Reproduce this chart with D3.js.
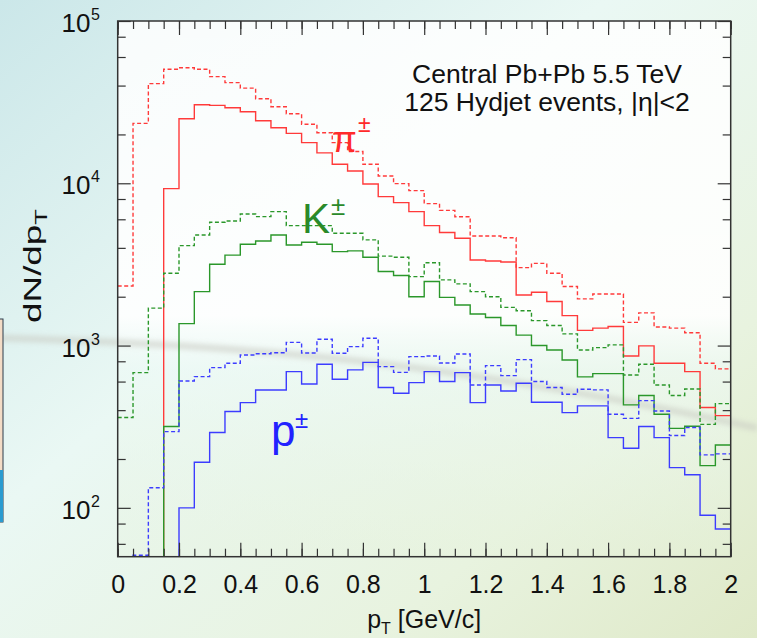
<!DOCTYPE html>
<html>
<head>
<meta charset="utf-8">
<script src="https://cdn.jsdelivr.net/npm/d3@7"></script>
<style>
  html, body { margin: 0; padding: 0; }
  body { width: 757px; height: 638px; overflow: hidden; }
  svg text { font-family: "Liberation Sans", Arial, sans-serif; }
</style>
</head>
<body>
<svg class="display"></svg>
<script>
// pT histograms, 40 bins of 0.05 GeV/c from 0 to 2
const binWidth = 0.05;

// dashed = all, solid = second set (as drawn in the figure)
const pionDashed = [2330, 23400, 41100, 50400, 51500, 50400, 45400, 41700, 38600, 33200,
  29600, 26800, 23100, 20500, 17800, 15700, 13100, 11100, 9950, 9010,
  7490, 6810, 6220, 4730, 4730, 4620, 3020, 3210, 2790, 2310,
  1940, 2080, 2080, 1390, 1590, 1300, 1280, 1200, 778, 718];
const pionSolid = [0, 0, 0, 9270, 25000, 30500, 30200, 29200, 27600, 24300,
  22000, 20300, 17800, 15400, 13100, 11900, 9900, 8270, 7600, 6690,
  5480, 4970, 4580, 3370, 3320, 3270, 2050, 2130, 1870, 1530,
  1240, 1280, 1310, 863, 995, 778, 778, 691, 415, 370];
const kaonDashed = [360, 681, 1700, 2790, 4130, 4800, 5750, 5860, 6470, 6230,
  6690, 5480, 5480, 5480, 4920, 4920, 4480, 3560, 3500, 2660,
  3240, 2540, 2400, 2150, 2000, 1720, 1640, 1425, 1330, 1180,
  940, 971, 1010, 659, 767, 572, 492, 540, 327, 439];
const kaonSolid = [0, 0, 0, 317, 1365, 2150, 3170, 3610, 4210, 4410,
  4800, 4170, 4330, 4210, 3790, 3830, 3500, 2860, 2700, 2000,
  2480, 1980, 1780, 1565, 1490, 1330, 1160, 1000, 940, 815,
  641, 672, 672, 431, 492, 377, 309, 318, 182, 244];
const protonDashed = [0, 51, 133, 295, 605, 644, 731, 778, 875, 891,
  904, 1047, 900, 1093, 896, 985, 1109, 742, 684, 855,
  863, 781, 888, 572, 752, 653, 819, 600, 551, 501,
  538, 533, 377, 356, 458, 395, 279, 313, 212, 215];
const protonSolid = [0, 0, 0, 0, 100, 191, 291, 392, 445, 532,
  532, 691, 580, 767, 620, 708, 788, 551, 508, 591,
  691, 600, 681, 445, 572, 525, 586, 447, 447, 386,
  425, 425, 271, 233, 317, 271, 177, 160, 90, 74];

const xMajor = [0, 0.2, 0.4, 0.6, 0.8, 1, 1.2, 1.4, 1.6, 1.8, 2];
const xMinor = d3.range(0, 41).map(i => i * 0.05);
const yMajor = [100, 1000, 10000, 100000];
const yExp = ['2', '3', '4', '5'];
const yMinor = [60, 80, 200, 400, 600, 800, 2000, 4000, 6000, 8000, 20000, 40000, 60000, 80000];

const width = 757;
const height = 638;
const margin = {top: 21, right: 26.3, bottom: 81.3, left: 117.7};

const svg = d3.select('.display')
  .attr('width', width)
  .attr('height', height);

const x = d3.scaleLinear()
  .domain([0, 2])
  .range([margin.left, width - margin.right]);

const y = d3.scaleLog()
  .domain([50, 1e5])
  .range([height - margin.bottom, margin.top]);

// slide background
const defs = svg.append('defs');
const bg = defs.append('linearGradient')
  .attr('id', 'bg')
  .attr('x1', 0).attr('y1', 0).attr('x2', 1).attr('y2', 1);
bg.append('stop').attr('offset', 0).attr('stop-color', '#cbe7e9');
bg.append('stop').attr('offset', 0.4).attr('stop-color', '#eaf8f4');
bg.append('stop').attr('offset', 0.75).attr('stop-color', '#e8f3df');
bg.append('stop').attr('offset', 1).attr('stop-color', '#dfe9c8');

const inner = defs.append('linearGradient')
  .attr('id', 'inner')
  .attr('x1', 0).attr('y1', 0).attr('x2', 0).attr('y2', 1);
inner.append('stop').attr('offset', 0).attr('stop-color', '#ffffff').attr('stop-opacity', 0.85);
inner.append('stop').attr('offset', 0.55).attr('stop-color', '#ffffff').attr('stop-opacity', 0.9);
inner.append('stop').attr('offset', 0.65).attr('stop-color', '#eefaf6').attr('stop-opacity', 0.6);
inner.append('stop').attr('offset', 1).attr('stop-color', '#e6f2dc').attr('stop-opacity', 0.3);

defs.append('filter').attr('id', 'blur')
  .append('feGaussianBlur').attr('stdDeviation', 2.5);

defs.append('clipPath').attr('id', 'plot')
  .append('rect')
  .attr('x', x(0)).attr('y', y(1e5))
  .attr('width', x(2) - x(0)).attr('height', y(50) - y(1e5));

svg.append('rect')
  .attr('width', width).attr('height', height)
  .attr('fill', 'url(#bg)');

svg.append('rect')
  .attr('x', x(0)).attr('y', y(1e5))
  .attr('width', x(2) - x(0)).attr('height', y(50) - y(1e5))
  .attr('fill', 'url(#inner)');

// grey streak of the slide design
svg.append('path')
  .attr('d', 'M0,338 C250,345 450,362 757,428')
  .attr('fill', 'none')
  .attr('stroke', '#c9cbc2')
  .attr('stroke-width', 7)
  .attr('opacity', 0.55)
  .attr('filter', 'url(#blur)');

// partial box at the left edge
svg.append('rect')
  .attr('x', -4).attr('y', 319).attr('width', 7).attr('height', 203)
  .attr('fill', '#f3dcc6').attr('stroke', '#2c3d4c').attr('stroke-width', 1);
svg.append('rect')
  .attr('x', -4).attr('y', 470).attr('width', 7).attr('height', 52)
  .attr('fill', '#2a9bd0');

// histograms
const line = d3.line()
  .x(d => x(d[0]))
  .y(d => y(Math.max(d[1], 30)))
  .curve(d3.curveStepAfter);

function steps(values) {
  const pts = values.map((v, i) => [i * binWidth, v]);
  pts.push([values.length * binWidth, values[values.length - 1]]);
  return pts;
}

const series = [
  {values: pionDashed, color: '#ff3a3a', dashed: true},
  {values: pionSolid, color: '#ff3a3a', dashed: false},
  {values: kaonDashed, color: '#2a972a', dashed: true},
  {values: kaonSolid, color: '#2a972a', dashed: false},
  {values: protonDashed, color: '#3c3cff', dashed: true},
  {values: protonSolid, color: '#3c3cff', dashed: false}
];

const g = svg.append('g').attr('clip-path', 'url(#plot)');

g.selectAll('path')
  .data(series)
  .enter().append('path')
    .attr('d', d => line(steps(d.values)))
    .attr('fill', 'none')
    .attr('stroke', d => d.color)
    .attr('stroke-width', 1.4)
    .attr('stroke-dasharray', d => d.dashed ? '4,2.5' : null);

// axes, ticks pointing inward on all four sides
function styleAxis(sel) {
  sel.select('.domain').remove();
  sel.selectAll('.tick line').attr('stroke', '#333').attr('stroke-width', 1.2);
}

svg.append('g')
  .attr('transform', `translate(0,${y(50)})`)
  .call(d3.axisBottom(x).tickValues(xMinor).tickSize(-8).tickFormat(''))
  .call(styleAxis);
svg.append('g')
  .attr('transform', `translate(0,${y(50)})`)
  .call(d3.axisBottom(x).tickValues(xMajor).tickSize(-14).tickPadding(19)
    .tickFormat(d3.format('~g')))
  .call(styleAxis)
  .call(s => s.selectAll('text')
    .attr('font-size', 25)
    .attr('fill', '#111')
    .attr('font-family', '"Liberation Sans", Arial, sans-serif'));

svg.append('g')
  .attr('transform', `translate(0,${y(1e5)})`)
  .call(d3.axisTop(x).tickValues(xMinor).tickSize(-8).tickFormat(''))
  .call(styleAxis);
svg.append('g')
  .attr('transform', `translate(0,${y(1e5)})`)
  .call(d3.axisTop(x).tickValues(xMajor).tickSize(-14).tickFormat(''))
  .call(styleAxis);

svg.append('g')
  .attr('transform', `translate(${x(0)},0)`)
  .call(d3.axisLeft(y).tickValues(yMinor).tickSize(-8).tickFormat(''))
  .call(styleAxis);
svg.append('g')
  .attr('transform', `translate(${x(0)},0)`)
  .call(d3.axisLeft(y).tickValues(yMajor).tickSize(-13).tickFormat(''))
  .call(styleAxis);

svg.append('g')
  .attr('transform', `translate(${x(2)},0)`)
  .call(d3.axisRight(y).tickValues(yMinor).tickSize(-8).tickFormat(''))
  .call(styleAxis);
svg.append('g')
  .attr('transform', `translate(${x(2)},0)`)
  .call(d3.axisRight(y).tickValues(yMajor).tickSize(-13).tickFormat(''))
  .call(styleAxis);

svg.append('rect')
  .attr('x', x(0)).attr('y', y(1e5))
  .attr('width', x(2) - x(0)).attr('height', y(50) - y(1e5))
  .attr('fill', 'none')
  .attr('stroke', '#333')
  .attr('stroke-width', 1.5);

// y tick labels 10^n
const yLab = svg.append('g').attr('fill', '#111');
yLab.selectAll('text.base')
  .data(yMajor)
  .enter().append('text')
    .attr('class', 'base')
    .attr('x', 90.5)
    .attr('y', d => y(d) + 11)
    .attr('text-anchor', 'end')
    .attr('font-size', 26)
    .text('10');
yLab.selectAll('text.exp')
  .data(yMajor)
  .enter().append('text')
    .attr('class', 'exp')
    .attr('x', 91)
    .attr('y', d => y(d) - 1)
    .attr('font-size', 16)
    .text((d, i) => yExp[i]);

// axis titles
const xTitle = svg.append('text')
  .attr('x', (x(0) + x(2)) / 2)
  .attr('y', 628)
  .attr('text-anchor', 'middle')
  .attr('font-size', 25)
  .attr('fill', '#111');
xTitle.append('tspan').text('p');
xTitle.append('tspan').attr('dy', 6).attr('font-size', 16).text('T');
xTitle.append('tspan').attr('dy', -6).text(' [GeV/c]');

const yTitle = svg.append('text')
  .attr('transform', 'translate(41,266) rotate(-90) scale(1.6,1)')
  .attr('text-anchor', 'middle')
  .attr('font-size', 23)
  .attr('fill', '#111');
yTitle.append('tspan').text('dN/dp');
yTitle.append('tspan').attr('dy', 6).attr('font-size', 16).text('T');

// legend text
svg.append('text')
  .attr('x', 547).attr('y', 83)
  .attr('text-anchor', 'middle')
  .attr('font-size', 26.5)
  .attr('fill', '#111')
  .text('Central Pb+Pb 5.5 TeV');
svg.append('text')
  .attr('x', 547).attr('y', 111)
  .attr('text-anchor', 'middle')
  .attr('font-size', 26.5)
  .attr('fill', '#111')
  .text('125 Hydjet events, |η|<2');

// particle labels
svg.append('text')
  .attr('x', 332).attr('y', 152)
  .attr('font-family', '"Liberation Serif", "DejaVu Serif", serif')
  .attr('font-size', 36)
  .attr('fill', '#ff2a2a')
  .text('π');
svg.append('text')
  .attr('x', 358).attr('y', 132)
  .attr('font-size', 23)
  .attr('fill', '#ff2a2a')
  .text('±');

svg.append('text')
  .attr('x', 302).attr('y', 233)
  .attr('font-size', 42)
  .attr('fill', '#2a8a2a')
  .text('K');
svg.append('text')
  .attr('x', 331).attr('y', 215)
  .attr('font-size', 26)
  .attr('fill', '#2a8a2a')
  .text('±');

svg.append('text')
  .attr('x', 271).attr('y', 446)
  .attr('font-size', 44)
  .attr('fill', '#2222ff')
  .text('p');
svg.append('text')
  .attr('x', 295).attr('y', 428)
  .attr('font-size', 24)
  .attr('fill', '#2222ff')
  .text('±');
</script>
</body>
</html>
